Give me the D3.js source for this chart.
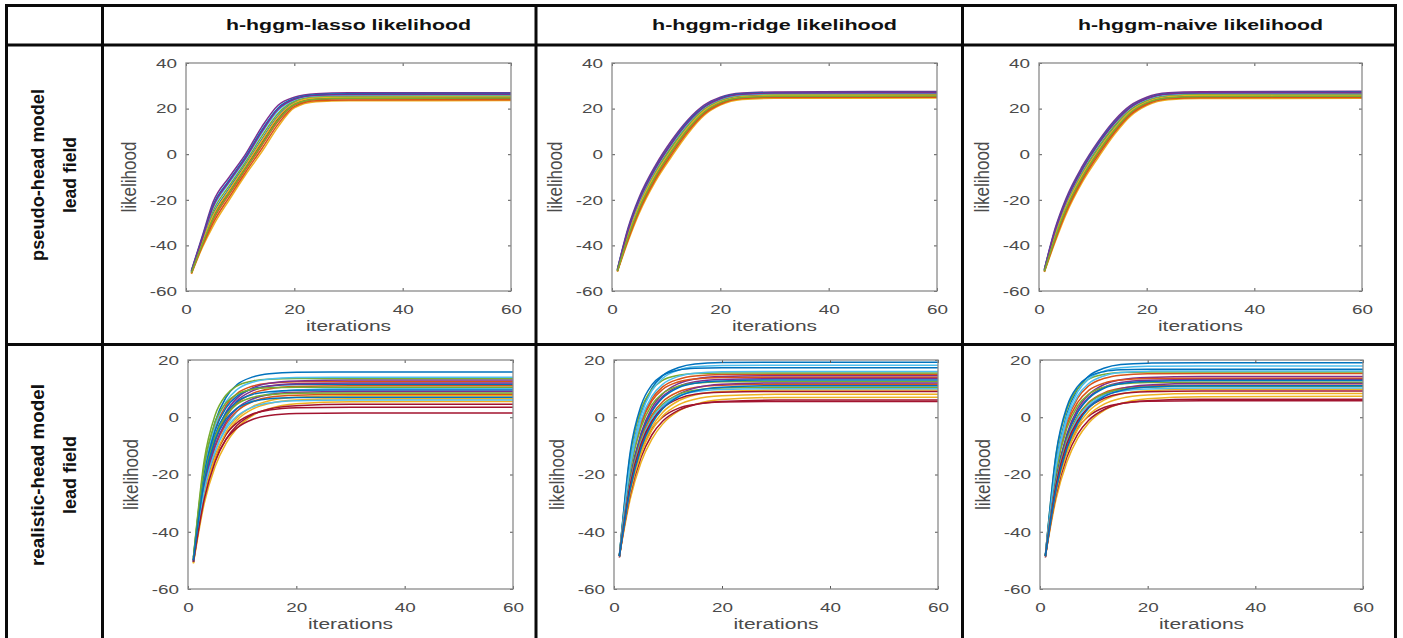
<!DOCTYPE html>
<html><head><meta charset="utf-8">
<script src="https://cdn.jsdelivr.net/npm/d3@7"></script>
<style>html,body{margin:0;padding:0;background:#fff}svg{display:block}</style>
</head><body>
<script>
// ---------------- data ----------------
const columnTitles = ["h-hggm-lasso likelihood", "h-hggm-ridge likelihood", "h-hggm-naive likelihood"];
const rowTitles = [["pseudo-head model", "lead field"], ["realistic-head model", "lead field"]];
const xTicks = [0, 20, 40, 60];
const yTicksPseudo = [-60, -40, -20, 0, 20, 40];
const yTicksRealistic = [-60, -40, -20, 0, 20];
const xLabel = "iterations";
const yLabel = "likelihood";
const pseudoIterations = [1, 3, 5, 8, 11, 14, 17, 20, 24, 30, 60];
const realisticIterations = [1, 3, 5, 7, 9, 12, 15, 20, 30, 60];

const lassoPseudo = [
  [-51.8, -38.5, -26.3, -15.0, -4.5, 6.5, 16.8, 22.7, 24.8, 25.2, 25.3],
  [-52.1, -39.8, -28.9, -17.5, -6.8, 3.8, 14.4, 21.5, 23.9, 24.3, 24.4],
  [-52.5, -41.0, -31.5, -20.0, -9.0, 1.0, 12.0, 20.3, 23.0, 23.4, 23.5],
  [-51.0, -36.0, -21.0, -10.0, 0.0, 12.0, 21.5, 25.0, 26.5, 26.9, 27.0],
  [-51.6, -37.9, -24.9, -13.8, -3.4, 7.9, 17.9, 23.2, 25.2, 25.6, 25.7],
  [-51.4, -37.3, -23.6, -12.5, -2.3, 9.3, 19.1, 23.8, 25.6, 26.0, 26.1],
  [-51.9, -39.1, -27.6, -16.3, -5.6, 5.1, 15.6, 22.1, 24.3, 24.7, 24.8],
  [-51.2, -36.6, -22.3, -11.3, -1.1, 10.6, 20.3, 24.4, 26.1, 26.5, 26.6],
  [-52.3, -40.4, -30.2, -18.8, -7.9, 2.4, 13.2, 20.9, 23.4, 23.8, 23.9],
  [-51.8, -38.8, -26.9, -15.6, -5.0, 5.9, 16.3, 22.4, 24.6, 25.0, 25.1],
  [-51.3, -37.0, -23.0, -11.9, -1.7, 9.9, 19.7, 24.1, 25.8, 26.2, 26.3],
  [-52.0, -39.5, -28.2, -16.9, -6.2, 4.4, 15.0, 21.8, 24.1, 24.5, 24.6]
];
const ridgePseudo = [
  [-51.0, -35.0, -22.5, -8.5, 2.5, 12.0, 19.3, 23.3, 25.4, 25.9, 26.1],
  [-51.3, -36.5, -24.3, -10.3, 0.8, 10.5, 18.1, 22.4, 24.7, 25.2, 25.3],
  [-51.5, -38.0, -26.0, -12.0, -1.0, 9.0, 17.0, 21.5, 24.0, 24.5, 24.6],
  [-50.5, -32.0, -19.0, -5.0, 6.0, 15.0, 21.5, 25.0, 26.8, 27.3, 27.5],
  [-50.9, -34.3, -21.6, -7.6, 3.4, 12.8, 19.8, 23.7, 25.8, 26.3, 26.4],
  [-50.8, -33.5, -20.8, -6.8, 4.3, 13.5, 20.4, 24.1, 26.1, 26.6, 26.8],
  [-51.1, -35.8, -23.4, -9.4, 1.6, 11.3, 18.7, 22.8, 25.1, 25.6, 25.7],
  [-50.6, -32.8, -19.9, -5.9, 5.1, 14.3, 20.9, 24.6, 26.5, 27.0, 27.1],
  [-51.4, -37.3, -25.1, -11.1, -0.1, 9.8, 17.6, 21.9, 24.4, 24.9, 25.0],
  [-51.1, -35.4, -22.9, -8.9, 2.1, 11.7, 19.0, 23.0, 25.2, 25.7, 25.9],
  [-50.7, -33.1, -20.3, -6.3, 4.7, 13.9, 20.6, 24.3, 26.3, 26.8, 27.0],
  [-51.2, -36.1, -23.8, -9.8, 1.2, 10.9, 18.4, 22.6, 24.9, 25.4, 25.5]
];
const naivePseudo = [
  [-51.1, -35.4, -22.9, -8.9, 2.2, 11.7, 19.1, 23.2, 25.4, 25.9, 26.0],
  [-51.4, -37.0, -24.7, -10.8, 0.4, 10.1, 17.8, 22.2, 24.6, 25.1, 25.2],
  [-51.7, -38.5, -26.5, -12.5, -1.5, 8.6, 16.7, 21.3, 23.9, 24.4, 24.5],
  [-50.5, -32.5, -19.5, -5.5, 5.6, 14.8, 21.4, 25.0, 26.9, 27.4, 27.6],
  [-50.9, -34.6, -22.0, -8.0, 3.1, 12.5, 19.6, 23.6, 25.8, 26.3, 26.5],
  [-50.8, -33.8, -21.2, -7.2, 4.0, 13.3, 20.3, 24.1, 26.2, 26.7, 26.9],
  [-51.2, -36.2, -23.8, -9.9, 1.3, 10.9, 18.5, 22.7, 25.0, 25.5, 25.6],
  [-50.6, -33.2, -20.4, -6.4, 4.8, 14.0, 20.8, 24.5, 26.5, 27.0, 27.2],
  [-51.5, -37.8, -25.6, -11.6, -0.5, 9.4, 17.3, 21.8, 24.3, 24.8, 24.9],
  [-51.1, -35.8, -23.3, -9.3, 1.8, 11.3, 18.8, 22.9, 25.2, 25.7, 25.8],
  [-50.7, -33.5, -20.8, -6.8, 4.4, 13.6, 20.5, 24.3, 26.4, 26.9, 27.0],
  [-51.3, -36.6, -24.2, -10.3, 0.9, 10.5, 18.2, 22.5, 24.8, 25.3, 25.4]
];
const lassoRealistic = [
  [-49.0, -18.0, -1.6, 6.9, 11.3, 14.1, 15.2, 15.7, 15.8, 15.8],
  [-49.5, -19.6, -4.0, 4.1, 8.2, 10.9, 11.9, 12.4, 12.5, 12.5],
  [-51.0, -30.1, -17.3, -9.2, -3.9, 0.7, 3.0, 4.7, 5.4, 5.5],
  [-50.0, -22.6, -7.1, 1.7, 6.6, 10.3, 11.9, 12.7, 13.0, 13.0],
  [-49.0, -15.0, 0.7, 7.7, 10.9, 12.7, 13.3, 13.5, 13.5, 13.5],
  [-49.5, -18.8, -2.9, 5.4, 9.6, 12.3, 13.4, 13.9, 14.0, 14.0],
  [-50.0, -27.6, -14.9, -7.8, -3.8, -0.7, 0.6, 1.3, 1.5, 1.5],
  [-50.0, -20.0, -4.7, 3.2, 7.3, 9.9, 10.9, 11.4, 11.5, 11.5],
  [-50.0, -23.5, -8.5, 0.0, 4.8, 8.4, 9.9, 10.7, 11.0, 11.0],
  [-51.0, -27.8, -14.3, -6.1, -1.1, 2.9, 4.8, 6.0, 6.5, 6.5],
  [-50.5, -23.0, -7.8, 0.8, 5.7, 9.3, 10.9, 11.7, 12.0, 12.0],
  [-49.0, -16.7, -1.7, 5.0, 8.0, 9.8, 10.3, 10.5, 10.5, 10.5],
  [-50.5, -26.4, -12.1, -3.4, 1.9, 6.2, 8.2, 9.5, 10.0, 10.0],
  [-50.5, -26.7, -13.6, -6.1, -2.0, 1.2, 2.5, 3.3, 3.5, 3.5],
  [-50.0, -21.0, -6.2, 1.5, 5.4, 8.0, 8.9, 9.4, 9.5, 9.5],
  [-50.0, -24.8, -10.5, -2.4, 2.1, 5.5, 7.0, 7.7, 8.0, 8.0],
  [-51.0, -27.4, -13.7, -5.3, -0.3, 3.8, 5.8, 7.0, 7.5, 7.5],
  [-50.5, -24.3, -9.8, -1.6, 3.0, 6.5, 7.9, 8.7, 9.0, 9.0],
  [-49.5, -21.5, -6.9, 0.6, 4.5, 7.0, 7.9, 8.4, 8.5, 8.5],
  [-50.5, -25.6, -11.9, -4.1, 0.3, 3.6, 5.0, 5.8, 6.0, 6.0],
  [-50.5, -28.6, -15.6, -7.7, -2.9, 1.0, 2.9, 4.0, 4.5, 4.5],
  [-50.0, -22.2, -8.0, -0.7, 3.1, 5.5, 6.5, 6.9, 7.0, 7.0]
];
const ridgeRealistic = [
  [-48.0, -15.5, 1.3, 10.1, 14.5, 17.4, 18.6, 19.1, 19.2, 19.2],
  [-48.5, -17.6, -1.8, 6.4, 10.6, 13.3, 14.4, 14.9, 15.0, 15.0],
  [-48.5, -28.6, -15.8, -7.7, -2.4, 2.2, 4.5, 6.2, 6.9, 7.0],
  [-48.5, -21.1, -5.6, 3.2, 8.1, 11.8, 13.4, 14.2, 14.5, 14.5],
  [-48.5, -13.2, 2.6, 9.7, 12.9, 14.7, 15.3, 15.5, 15.5, 15.5],
  [-48.5, -16.0, 0.6, 9.2, 13.6, 16.5, 17.6, 18.1, 18.2, 18.2],
  [-49.0, -25.0, -11.7, -4.2, 0.0, 3.2, 4.5, 5.3, 5.5, 5.5],
  [-48.5, -12.2, 4.0, 11.3, 14.6, 16.5, 17.1, 17.3, 17.3, 17.3],
  [-48.5, -18.1, -2.5, 5.6, 9.7, 12.4, 13.4, 13.9, 14.0, 14.0],
  [-48.5, -25.7, -11.8, -3.4, 1.7, 5.8, 7.8, 9.0, 9.5, 9.5],
  [-48.5, -21.5, -6.3, 2.3, 7.2, 10.8, 12.4, 13.2, 13.5, 13.5],
  [-48.5, -18.8, -3.6, 4.3, 8.3, 10.9, 11.9, 12.4, 12.5, 12.5],
  [-48.5, -17.1, -1.0, 7.3, 11.5, 14.3, 15.4, 15.9, 16.0, 16.0],
  [-48.5, -27.1, -14.1, -6.2, -1.4, 2.5, 4.4, 5.5, 6.0, 6.0],
  [-48.5, -21.7, -6.6, 1.9, 6.7, 10.4, 11.9, 12.7, 13.0, 13.0],
  [-48.5, -22.4, -7.6, 0.7, 5.4, 8.9, 10.4, 11.2, 11.5, 11.5],
  [-48.5, -26.3, -12.8, -4.6, 0.4, 4.4, 6.3, 7.5, 8.0, 8.0],
  [-48.5, -24.7, -10.3, -1.5, 3.8, 8.1, 10.2, 11.5, 12.0, 12.0],
  [-48.5, -22.8, -8.3, -0.1, 4.5, 8.0, 9.4, 10.2, 10.5, 10.5],
  [-48.5, -23.1, -8.7, -0.5, 4.0, 7.5, 8.9, 9.7, 10.0, 10.0],
  [-48.5, -23.5, -9.3, -1.4, 3.1, 6.5, 8.0, 8.7, 9.0, 9.0],
  [-48.5, -25.1, -10.9, -2.3, 3.0, 7.2, 9.2, 10.5, 11.0, 11.0]
];
const naiveRealistic = [
  [-48.0, -15.6, 1.2, 9.9, 14.3, 17.2, 18.4, 18.9, 19.0, 19.0],
  [-48.5, -17.4, -1.6, 6.7, 10.9, 13.6, 14.7, 15.2, 15.3, 15.3],
  [-48.5, -28.4, -15.6, -7.4, -2.1, 2.5, 4.8, 6.5, 7.2, 7.3],
  [-48.5, -21.3, -5.8, 2.9, 7.8, 11.5, 13.1, 13.9, 14.2, 14.2],
  [-48.5, -13.0, 2.8, 10.0, 13.2, 15.0, 15.6, 15.8, 15.8, 15.8],
  [-48.5, -16.2, 0.4, 8.9, 13.3, 16.2, 17.3, 17.8, 17.9, 17.9],
  [-49.0, -24.8, -11.5, -3.9, 0.3, 3.5, 4.8, 5.6, 5.8, 5.8],
  [-48.5, -12.5, 3.7, 10.8, 14.1, 16.0, 16.6, 16.8, 16.8, 16.8],
  [-48.5, -18.3, -2.7, 5.2, 9.3, 12.0, 13.0, 13.5, 13.6, 13.6],
  [-48.5, -25.5, -11.6, -3.1, 2.0, 6.1, 8.1, 9.3, 9.8, 9.8],
  [-48.5, -21.7, -6.5, 2.0, 6.9, 10.5, 12.1, 12.9, 13.2, 13.2],
  [-48.5, -19.0, -3.8, 4.0, 8.0, 10.6, 11.6, 12.1, 12.2, 12.2],
  [-48.5, -17.0, -0.8, 7.5, 11.7, 14.5, 15.6, 16.1, 16.2, 16.2],
  [-48.5, -26.9, -13.9, -5.9, -1.1, 2.8, 4.7, 5.8, 6.3, 6.3],
  [-48.5, -21.8, -6.8, 1.7, 6.5, 10.2, 11.7, 12.5, 12.8, 12.8],
  [-48.5, -22.6, -7.8, 0.4, 5.1, 8.6, 10.1, 10.9, 11.2, 11.2],
  [-48.5, -26.1, -12.6, -4.3, 0.7, 4.7, 6.6, 7.8, 8.3, 8.3],
  [-48.5, -24.8, -10.4, -1.7, 3.6, 7.9, 10.0, 11.3, 11.8, 11.8],
  [-48.5, -22.6, -8.1, 0.2, 4.8, 8.3, 9.7, 10.5, 10.8, 10.8],
  [-48.5, -23.0, -8.6, -0.3, 4.2, 7.7, 9.1, 9.9, 10.2, 10.2],
  [-48.5, -23.4, -9.2, -1.2, 3.3, 6.7, 8.2, 8.9, 9.2, 9.2],
  [-48.5, -25.0, -10.8, -2.2, 3.1, 7.3, 9.3, 10.6, 11.0, 11.0]
];

// ---------------- layout / style ----------------
const W = 1403, H = 638;
const palette = ["#0072BD", "#D95319", "#EDB120", "#7E2F8E", "#77AC30", "#4DBEEE", "#A2142F"];
const gridX = [6.5, 102.5, 536, 962.5, 1395.5];
const gridY = [5.5, 45, 344.5];
const axisFont = "'Liberation Sans', Arial, Helvetica, sans-serif";
const SX = 1.4; // horizontal stretch of the source image

const panels = [
  {row: 0, col: 0, series: lassoPseudo, iters: pseudoIterations, yDom: [-60, 40], yTicks: yTicksPseudo, x0: 186, x1: 511, y0: 63, y1: 291},
  {row: 0, col: 1, series: ridgePseudo, iters: pseudoIterations, yDom: [-60, 40], yTicks: yTicksPseudo, x0: 612, x1: 937, y0: 63, y1: 291},
  {row: 0, col: 2, series: naivePseudo, iters: pseudoIterations, yDom: [-60, 40], yTicks: yTicksPseudo, x0: 1039, x1: 1362, y0: 63, y1: 291},
  {row: 1, col: 0, series: lassoRealistic, iters: realisticIterations, yDom: [-60, 20], yTicks: yTicksRealistic, x0: 188, x1: 513, y0: 360, y1: 589},
  {row: 1, col: 1, series: ridgeRealistic, iters: realisticIterations, yDom: [-60, 20], yTicks: yTicksRealistic, x0: 614, x1: 938, y0: 360, y1: 589},
  {row: 1, col: 2, series: naiveRealistic, iters: realisticIterations, yDom: [-60, 20], yTicks: yTicksRealistic, x0: 1040, x1: 1363, y0: 360, y1: 589}
];

const svg = d3.select("body").append("svg").attr("width", W).attr("height", H);
svg.append("rect").attr("width", W).attr("height", H).attr("fill", "#fff");
const defs = svg.append("defs");
const fmt = d => String(d);

panels.forEach((p, pi) => {
  const g = svg.append("g");
  const x = d3.scaleLinear().domain([0, 60]).range([p.x0, p.x1]);
  const y = d3.scaleLinear().domain(p.yDom).range([p.y1, p.y0]);
  defs.append("clipPath").attr("id", "clip" + pi)
    .append("rect").attr("x", p.x0).attr("y", p.y0).attr("width", p.x1 - p.x0).attr("height", p.y1 - p.y0);

  const line = d3.line().x(d => x(d[0])).y(d => y(d[1])).curve(d3.curveMonotoneX);
  g.append("g").attr("clip-path", `url(#clip${pi})`)
    .selectAll("path").data(p.series).join("path")
    .attr("d", s => line(p.iters.map((it, k) => [it, s[k]])))
    .attr("fill", "none")
    .attr("stroke", (s, i) => palette[i % palette.length])
    .attr("stroke-width", 1.5)
    .attr("stroke-linejoin", "round");

  // axes (ticks inward on all sides)
  const axColor = "#8a8a8a";
  const bottom = g.append("g").attr("transform", `translate(0,${p.y1})`)
    .call(d3.axisBottom(x).tickValues(xTicks).tickFormat(fmt).tickSizeInner(-3).tickSizeOuter(0).tickPadding(13));
  const top = g.append("g").attr("transform", `translate(0,${p.y0})`)
    .call(d3.axisTop(x).tickValues(xTicks).tickSizeInner(-3).tickSizeOuter(0).tickFormat(""));
  const left = g.append("g").attr("transform", `translate(${p.x0},0)`)
    .call(d3.axisLeft(y).tickValues(p.yTicks).tickFormat(fmt).tickSizeInner(-3).tickSizeOuter(0).tickPadding(9));
  const right = g.append("g").attr("transform", `translate(${p.x1},0)`)
    .call(d3.axisRight(y).tickValues(p.yTicks).tickSizeInner(-3).tickSizeOuter(0).tickFormat(""));
  [bottom, top, left, right].forEach(a => {
    a.select(".domain").remove();
    a.selectAll("line").attr("stroke", "#555").attr("stroke-width", 1);
    a.selectAll("text").attr("font-family", axisFont).attr("font-size", 13.5).attr("fill", "#4a4a4a");
  });
  bottom.selectAll("text").attr("transform", `scale(${SX},1)`);
  left.selectAll("text").each(function() {
    const t = d3.select(this);
    t.attr("x", +t.attr("x") / SX).attr("transform", `scale(${SX},1)`);
  });
  g.append("rect").attr("x", p.x0).attr("y", p.y0).attr("width", p.x1 - p.x0).attr("height", p.y1 - p.y0)
    .attr("fill", "none").attr("stroke", axColor).attr("stroke-width", 1.3);

  // axis labels
  g.append("text")
    .attr("transform", `translate(${(p.x0 + p.x1) / 2},${p.y1 + 40}) scale(${SX},1)`)
    .attr("text-anchor", "middle").attr("font-family", axisFont).attr("font-size", 15).attr("fill", "#4a4a4a")
    .text(xLabel);
  g.append("text")
    .attr("transform", `translate(${p.x0 - 57},${(p.y0 + p.y1) / 2}) scale(${SX},1) rotate(-90)`)
    .attr("text-anchor", "middle").attr("dominant-baseline", "central")
    .attr("font-family", axisFont).attr("font-size", 15).attr("fill", "#4a4a4a")
    .attr("textLength", 71).attr("lengthAdjust", "spacingAndGlyphs")
    .text(yLabel);

  // column titles
  if (p.row === 0) {
    svg.append("text")
      .attr("x", (p.x0 + p.x1) / 2).attr("y", 30)
      .attr("text-anchor", "middle").attr("font-family", axisFont).attr("font-weight", "bold")
      .attr("font-size", 15.5).attr("fill", "#111")
      .attr("textLength", 245).attr("lengthAdjust", "spacingAndGlyphs")
      .text(columnTitles[p.col]);
  }
});

// row titles
const rowCenters = [175, 475];
const rowLens = [[172, 76], [182, 78]];
rowTitles.forEach((lines, r) => {
  lines.forEach((txt, k) => {
    svg.append("text")
      .attr("transform", `translate(${k === 0 ? 38 : 70},${rowCenters[r]}) rotate(-90)`)
      .attr("text-anchor", "middle").attr("dominant-baseline", "central")
      .attr("font-family", "'Liberation Sans Narrow', 'Liberation Sans', Arial, sans-serif")
      .attr("font-weight", "bold").attr("font-size", 18).attr("fill", "#111")
      .attr("textLength", rowLens[r][k]).attr("lengthAdjust", "spacingAndGlyphs")
      .text(txt);
  });
});

// table grid
const gridG = svg.append("g").attr("stroke", "#0a0a0a").attr("stroke-width", 3);
gridX.forEach(gx => gridG.append("line").attr("x1", gx).attr("x2", gx).attr("y1", gridY[0] - 1.5).attr("y2", H + 2));
gridY.forEach(gy => gridG.append("line").attr("x1", gridX[0] - 1.5).attr("x2", gridX[gridX.length - 1] + 1.5).attr("y1", gy).attr("y2", gy));
</script>
</body></html>
